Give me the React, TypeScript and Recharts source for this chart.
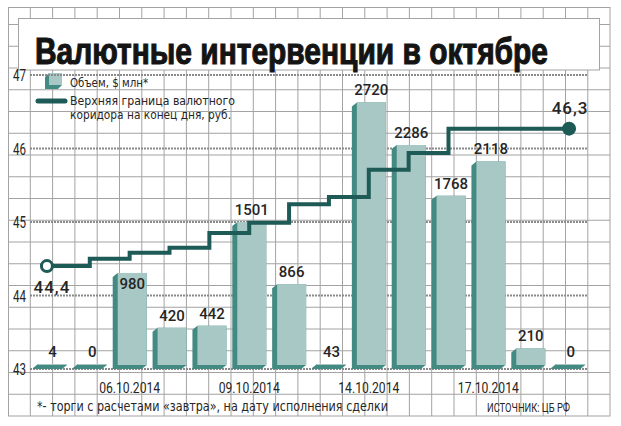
import React from "react";
import { ComposedChart, Bar, Line, XAxis, YAxis, CartesianGrid } from "recharts";

document.body.style.margin = "0";

// торговые дни октября 2014
const dates = [
  "02.10.2014", "03.10.2014", "06.10.2014", "07.10.2014", "08.10.2014",
  "09.10.2014", "10.10.2014", "13.10.2014", "14.10.2014", "15.10.2014",
  "16.10.2014", "17.10.2014", "20.10.2014", "21.10.2014",
];
// объем интервенций, $ млн
const volumes = [4, 0, 980, 420, 442, 1501, 866, 43, 2720, 2286, 1768, 2118, 210, 0];
// верхняя граница валютного коридора, руб.
const corridor = [44.4, 44.5, 44.58, 44.65, 44.85, 44.99, 45.24, 45.34, 45.71, 45.94, 46.27, 46.27, 46.27, 46.27];
const shownDates = ["06.10.2014", "09.10.2014", "14.10.2014", "17.10.2014"];
const rubTicks = [43, 44, 45, 46, 47];
// подписи, которые стоят внутри столбика
const insideLabels = ["06.10.2014"];

const LIGHT = "#a8c8c6";
const DARK = "#438a82";
const LINE = "#1e5a56";
const GRID = "#a3a3a3";
const TEXT = "#252525";

const data = dates.map((date, i) => ({ date, vol: volumes[i], rate: corridor[i] }));

const fmt = (v: number) => v.toFixed(1).replace(".", ",");

const BarShape = (props: any) => {
  const { x, y, width, height, payload } = props;
  const base = y + height;
  const top = Math.min(y, base - 5);
  const s = 5;
  const pts = [
    [x, top + 4], [x + s, top], [x + width, top], [x + width, base - 4],
    [x + width - s, base], [x, base],
  ].map((p) => p.join(",")).join(" ");
  const inside = insideLabels.includes(payload.date);
  return (
    <g>
      <polygon points={pts} fill={DARK} />
      <rect x={x + s} y={top} width={width - s} height={Math.max(1, base - 4 - top)} fill={LIGHT} />
      <text
        x={x + s + (width - s) / 2}
        y={inside ? top + 16 : top - 7}
        textAnchor="middle"
        fontFamily="Roboto"
        fontWeight={500}
        fontSize={15}
        fill={TEXT}
      >
        {payload.vol}
      </text>
    </g>
  );
};

const CorridorDot = (props: any) => {
  const { cx, cy, index, value } = props;
  const last = corridor.length - 1;
  if (index === 0) {
    return (
      <g key="start">
        <circle cx={cx - 3} cy={cy} r={5.5} fill="#fff" stroke={LINE} strokeWidth={3} />
        <text x={cx + 2} y={cy + 27} textAnchor="middle" fontFamily="Roboto" fontWeight={500}
          fontSize={17} letterSpacing={1} fill={TEXT}>{fmt(value)}</text>
      </g>
    );
  }
  if (index === last) {
    return (
      <g key="end">
        <circle cx={cx + 1} cy={cy} r={7} fill={LINE} />
        <text x={cx + 2} y={cy - 15} textAnchor="middle" fontFamily="Roboto" fontWeight={500}
          fontSize={17} letterSpacing={1} fill={TEXT}>{fmt(value)}</text>
      </g>
    );
  }
  return <g key={`d${index}`} />;
};

const DateTick = (props: any) => {
  const { x, y, payload } = props;
  if (!shownDates.includes(payload.value)) return <g />;
  return (
    <text x={x} y={y + 24} textAnchor="middle" fontFamily="Roboto" fontSize={15}
      textLength={61} lengthAdjust="spacingAndGlyphs" fill={TEXT}>
      {payload.value}
    </text>
  );
};

const RubTick = (props: any) => {
  const { x, y, payload } = props;
  return (
    <text x={x} y={y + 6} textAnchor="end" fontFamily="Roboto" fontSize={16}
      textLength={13} lengthAdjust="spacingAndGlyphs" fill={TEXT}>
      {payload.value}
    </text>
  );
};

function Background() {
  const vLines: number[] = [];
  for (let xx = 8 + 22.3; xx < 609; xx += 22.3) vLines.push(xx);
  const hLines: number[] = [];
  for (let yy = 416 - 21.75; yy > 8; yy -= 21.75) hLines.push(yy);
  return (
    <svg width={621} height={426} style={{ position: "absolute", left: 0, top: 0 }}>
      <rect x={0} y={0} width={621} height={426} fill="#fff" />
      {vLines.map((xx) => (
        <line key={`v${xx}`} x1={xx} x2={xx} y1={7} y2={416} stroke={GRID} strokeWidth={1} />
      ))}
      {hLines.map((yy) => (
        <line key={`h${yy}`} x1={8} x2={610} y1={yy} y2={yy} stroke={GRID} strokeWidth={1} />
      ))}
      <rect x={8.5} y={7.5} width={601.5} height={408.5} fill="none" stroke={GRID} />
      <rect x={18.5} y={18.5} width={581} height={51.5} fill="#fff" stroke={GRID} />
      <text x={0} y={0} transform="translate(35 64) scale(1 1.2)" fontFamily="'Liberation Sans', sans-serif"
        fontWeight="bold" fontSize={30} textLength={513} lengthAdjust="spacingAndGlyphs" fill="#141414"
        stroke="#141414" strokeWidth={0.9}>
        Валютные интервенции в октябре
      </text>

      {/* легенда */}
      <polygon points="45,77 49,73 49,85 62,85 58,89 45,89" fill={DARK} />
      <rect x={49} y={73} width={13} height={12} fill={LIGHT} />
      <text x={70} y={87} fontFamily="DejaVu Sans" fontSize={12} textLength={78}
        lengthAdjust="spacingAndGlyphs" fill={TEXT}>Объем, $ млн*</text>
      <line x1={38} x2={65} y1={101} y2={101} stroke={LINE} strokeWidth={5} strokeLinecap="round" />
      <text x={70} y={105} fontFamily="DejaVu Sans" fontSize={12} textLength={165}
        lengthAdjust="spacingAndGlyphs" fill={TEXT}>Верхняя граница валютного</text>
      <text x={70} y={119} fontFamily="DejaVu Sans" fontSize={12} textLength={161}
        lengthAdjust="spacingAndGlyphs" fill={TEXT}>коридора на конец дня, руб.</text>

      {/* сноска */}
      <text x={37} y={411} fontFamily="DejaVu Sans" fontSize={14} textLength={351}
        lengthAdjust="spacingAndGlyphs" fill={TEXT}>*- торги с расчетами «завтра», на дату исполнения сделки</text>
      <text x={487} y={412} fontFamily="Roboto" fontSize={12} textLength={83}
        lengthAdjust="spacingAndGlyphs" fill={TEXT}>ИСТОЧНИК: ЦБ РФ</text>
    </svg>
  );
}

export default function App() {
  return (
    <div style={{ position: "relative", width: 621, height: 426 }}>
      <Background />
      <div style={{ position: "absolute", left: 0, top: 0 }}>
        <ComposedChart width={621} height={426} data={data} margin={{ top: 75, right: 33, bottom: 37, left: 8 }}>
          <CartesianGrid yAxisId="rub" vertical={false} stroke="#8a8a8a" strokeWidth={2} strokeDasharray="2 1" />
          <XAxis dataKey="date" interval={0} height={20} axisLine={false} tickLine={false}
            tickSize={0} tickMargin={0} tick={<DateTick />} />
          <YAxis yAxisId="rub" domain={[43, 47]} ticks={rubTicks} width={22} axisLine={false}
            tickLine={false} tickSize={0} tickMargin={4} tick={<RubTick />} />
          <YAxis yAxisId="vol" orientation="right" domain={[0, 3000]} hide />
          <Bar yAxisId="vol" dataKey="vol" barSize={34} minPointSize={2} shape={BarShape}
            isAnimationActive={false} />
          <Line yAxisId="rub" dataKey="rate" type="stepAfter" stroke={LINE} strokeWidth={4}
            dot={CorridorDot} activeDot={false} isAnimationActive={false} />
        </ComposedChart>
      </div>
    </div>
  );
}
